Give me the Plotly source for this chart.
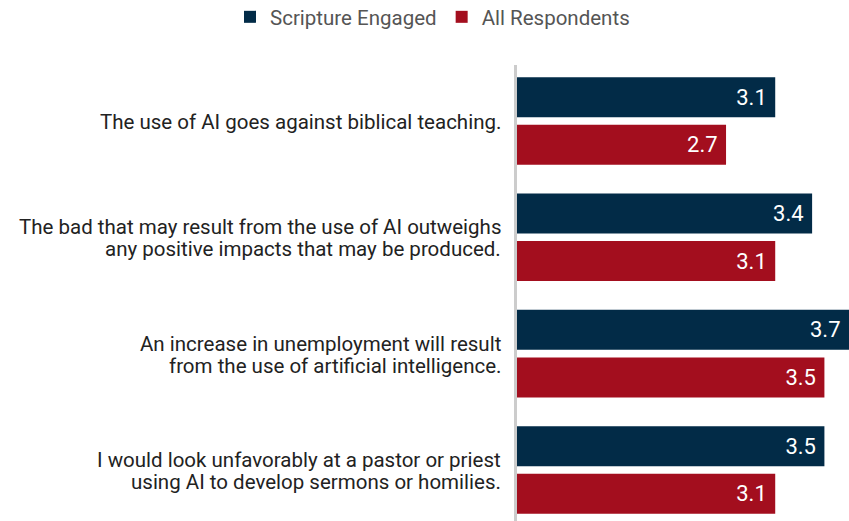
import plotly.graph_objects as go

categories = [
    "The use of AI goes against biblical teaching.",
    "The bad that may result from the use of AI outweighs<br>any positive impacts that may be produced.",
    "An increase in unemployment will result<br>from the use of artificial intelligence.",
    "I would look unfavorably at a pastor or priest<br>using AI to develop sermons or homilies.",
]
scripture_engaged = [3.1, 3.4, 3.7, 3.5]
all_respondents = [2.7, 3.1, 3.5, 3.1]
series_names = ["Scripture Engaged", "All Respondents"]
colors = ["#022b47", "#a30e1e"]

FONT = "Roboto, Liberation Sans, sans-serif"

fig = go.Figure()
for name, vals, col in zip(series_names, [scripture_engaged, all_respondents], colors):
    fig.add_trace(go.Bar(
        y=categories, x=vals, orientation="h", name=name,
        marker=dict(color=col, line=dict(width=0)),
        text=[f"{v:.1f}\u00a0" for v in vals],
        textposition="inside", insidetextanchor="end",
        insidetextfont=dict(family=FONT, size=22, color="white"),
        constraintext="none", cliponaxis=False,
        hoverinfo="skip",
    ))

# category labels, one annotation per line for tight line spacing
for cat in categories:
    lines = cat.split("<br>")
    n = len(lines)
    for i, ln in enumerate(lines):
        shift = (n - 1) / 2 * 22 - i * 22
        fig.add_annotation(
            x=0, xref="paper", y=cat, yref="y", text=ln, showarrow=False,
            xanchor="right", yanchor="middle", xshift=-14, yshift=shift - 1,
            font=dict(family=FONT, size=20.5, color="#222222"),
        )

W, H = 849, 521
L, T = 517, 65
PW, PH = W - L, H - T

fig.update_layout(
    width=W, height=H,
    margin=dict(l=L, r=0, t=T, b=0, autoexpand=False),
    paper_bgcolor="white", plot_bgcolor="white",
    barmode="group", bargap=0.183, bargroupgap=0.158,
    font=dict(family=FONT, size=21, color="#555555"),
    showlegend=True,
    legend=dict(
        orientation="h", xref="paper", yref="paper",
        x=(230 - L) / PW, xanchor="left",
        y=(H - 17) / PH, yanchor="middle",
        font=dict(family=FONT, size=20.5, color="#555555"),
        itemwidth=30, traceorder="normal",
    ),
    xaxis=dict(range=[1, 3.7], visible=False, showgrid=False, zeroline=False),
    yaxis=dict(
        categoryorder="array", categoryarray=categories,
        range=[3.439, -0.4815], showticklabels=False, ticks="",
        showgrid=False, zeroline=False,
        showline=True, linecolor="#cccccc", linewidth=3,
    ),
)

fig.write_html(
    "out.html",
    config={"displayModeBar": False},
    post_script="document.body.style.margin='0';document.body.style.overflow='hidden';",
)
